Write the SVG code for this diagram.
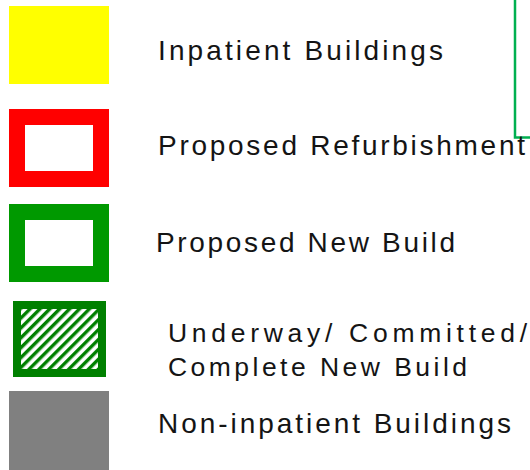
<svg xmlns="http://www.w3.org/2000/svg" width="530" height="470" viewBox="0 0 530 470">
  <style>
    .lbl { font-family: "Liberation Sans", Arial, sans-serif; font-size: 28px; fill: #141414; }
    .lbl2 { font-family: "Liberation Sans", Arial, sans-serif; font-size: 26.5px; fill: #141414; }
  </style>
  <defs>
    <pattern id="hatch" patternUnits="userSpaceOnUse" width="7" height="7" patternTransform="rotate(45)">
      <rect x="0" y="0" width="7" height="7" fill="#ffffff"/>
      <rect x="0" y="0" width="3.4" height="7" fill="#008000"/>
    </pattern>
  </defs>
  <rect width="530" height="470" fill="#ffffff"/>
  <g id="edge-line">
    <path d="M515,0 V137.5 H530" fill="none" stroke="#00b050" stroke-width="2.5"/>
  </g>
  <g id="inpatient">
    <rect x="9" y="6" width="100" height="78" fill="#ffff00"/>
    <text class="lbl" x="158" y="60" textLength="285" lengthAdjust="spacing">Inpatient Buildings</text>
  </g>
  <g id="refurb">
    <rect x="17" y="117" width="84" height="62" fill="#ffffff" stroke="#ff0000" stroke-width="16"/>
    <text class="lbl" x="158" y="155" textLength="367" lengthAdjust="spacing">Proposed Refurbishment</text>
  </g>
  <g id="newbuild">
    <rect x="17" y="212" width="84" height="62" fill="#ffffff" stroke="#009900" stroke-width="16"/>
    <text class="lbl" x="156" y="252" textLength="299" lengthAdjust="spacing">Proposed New Build</text>
  </g>
  <g id="underway">
    <rect x="17" y="305" width="85" height="68" fill="url(#hatch)" stroke="#008000" stroke-width="8"/>
    <text class="lbl2" x="168" y="342" textLength="359" lengthAdjust="spacing">Underway/ Committed/</text>
    <text class="lbl2" x="168" y="376" textLength="299" lengthAdjust="spacing">Complete New Build</text>
  </g>
  <g id="noninpatient">
    <rect x="9" y="391" width="100" height="79" fill="#808080"/>
    <text class="lbl" x="158" y="433" textLength="353" lengthAdjust="spacing">Non-inpatient Buildings</text>
  </g>
</svg>
